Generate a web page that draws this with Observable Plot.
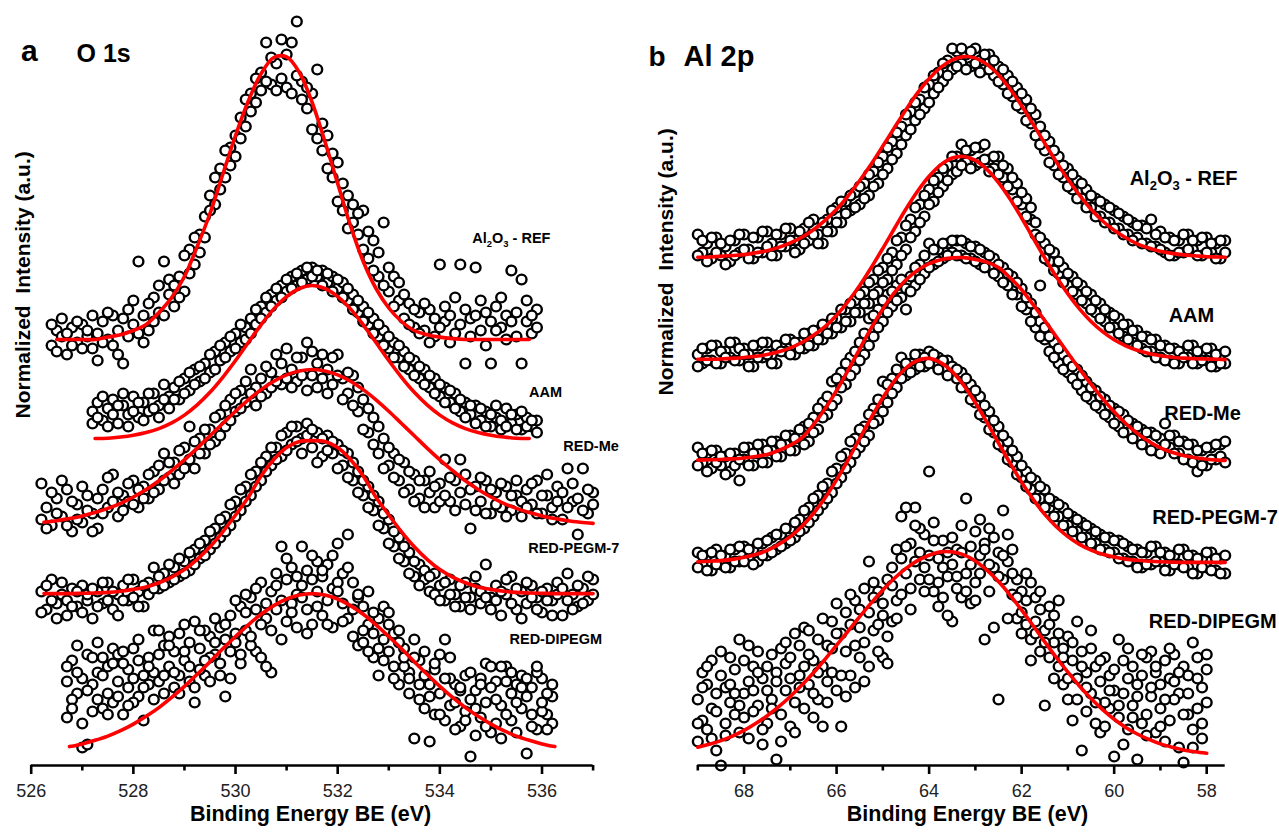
<!DOCTYPE html>
<html>
<head>
<meta charset="utf-8">
<script src="https://cdn.jsdelivr.net/npm/d3@7"></script>
<script src="https://cdn.jsdelivr.net/npm/@observablehq/plot@0.6"></script>
<style>
html, body { margin: 0; padding: 0; background: #fff; overflow: hidden; }
#wrap { display: flex; width: 1279px; height: 832px; }
#wrap svg { flex: none; }
svg text { white-space: pre; }
</style>
</head>
<body>
<div id="wrap"></div>
<script>
// ---------------- Panel a: O 1s ----------------
const o1sEnergy = [
526.2,526.3,526.4,526.5,526.6,526.7,526.8,526.9,527.0,527.1,
527.2,527.3,527.4,527.5,527.6,527.7,527.8,527.9,528.0,528.1,
528.2,528.3,528.4,528.5,528.6,528.7,528.8,528.9,529.0,529.1,
529.2,529.3,529.4,529.5,529.6,529.7,529.8,529.9,530.0,530.1,
530.2,530.3,530.4,530.5,530.6,530.7,530.8,530.9,531.0,531.1,
531.2,531.3,531.4,531.5,531.6,531.7,531.8,531.9,532.0,532.1,
532.2,532.3,532.4,532.5,532.6,532.7,532.8,532.9,533.0,533.1,
533.2,533.3,533.4,533.5,533.6,533.7,533.8,533.9,534.0,534.1,
534.2,534.3,534.4,534.5,534.6,534.7,534.8,534.9,535.0,535.1,
535.2,535.3,535.4,535.5,535.6,535.7,535.8,535.9,536.0,536.1,
536.2,536.3,536.4,536.5,536.6,536.7,536.8,536.9,537.0];

const o1sRefScan1 = [null,null,
140,145,143,137,146,141,147,143,139,135,
148,142,150,145,134,152,147,168,150,145,
156,151,168,157,153,163,158,172,167,177,
183,190,187,199,196,206,210,216,213,224,
221,231,241,227,234,242,226,241,248,228,
219,224,232,205,210,196,201,185,190,181,
177,185,169,175,163,181,158,163,155,149,
154,146,151,145,152,143,167,148,141,156,
167,134,149,166,145,151,134,153,146,150,
165,143,162,148,144,152,
null,null,null,null,null,null,null,null,null,null,null];
const o1sRefScan2 = [null,null,
147,138,149,144,140,148,139,145,150,144,
141,151,140,137,149,143,155,144,141,154,
148,160,150,162,160,156,170,164,176,171,
176,185,196,192,205,200,203,209,222,218,
229,225,228,236,225,229,237,224,230,222,
226,212,209,214,199,204,188,194,179,187,
184,172,178,165,171,160,166,153,161,157,
147,152,144,154,141,149,146,153,150,144,
147,152,143,150,155,140,148,145,156,142,
148,151,134,155,150,146,
null,null,null,null,null,null,null,null,null,null,null];

const o1sAamScan1 = [null,null,null,null,null,null,null,null,null,null,
118,121,115,119,122,114,120,117,123,116,
121,118,124,120,127,123,126,122,129,125,
132,128,134,131,138,135,141,138,144,141,
146,149,147,153,151,157,155,160,158,163,
160,165,162,166,163,165,161,163,159,161,
155,157,151,153,147,149,143,145,139,141,
136,138,132,135,129,132,126,129,123,126,
121,124,118,121,117,120,115,118,113,116,
112,119,114,117,112,116,113,115,
null,null,null,null,null,null,null,null,null,null,null];
const o1sAamScan2 = [null,null,null,null,null,null,null,null,null,null,
114,116,123,113,117,120,124,113,118,121,
115,124,119,116,122,119,122,128,124,131,
127,133,129,137,132,140,136,143,139,147,
142,144,152,149,156,153,159,156,162,159,
164,161,166,163,165,160,164,158,162,156,
159,152,155,148,151,144,147,140,143,136,
140,133,136,130,133,127,130,124,127,121,
125,119,122,116,120,114,119,113,117,120,
115,113,117,112,118,113,115,111,
null,null,null,null,null,null,null,null,null,null,null];

const o1sMeScan1 = [
94,86,80,89,83,92,78,87,81,90,
84,79,92,86,97,83,90,88,95,86,
93,89,98,92,104,96,101,97,106,113,
99,109,104,112,108,117,113,122,118,125,
121,132,126,129,124,131,137,127,139,132,
128,136,141,130,126,137,132,127,137,129,
124,130,118,122,111,116,104,109,100,104,
95,101,92,97,89,95,91,86,94,102,
88,95,102,87,79,93,88,95,84,91,
86,93,85,90,83,92,87,95,84,90,
86,93,82,99,88,77,99,84,91];
const o1sMeScan2 = [
82,79,91,84,95,80,88,82,93,85,
78,89,84,96,88,91,85,94,87,92,
89,97,91,100,95,101,94,105,99,102,
108,104,112,107,116,110,120,115,124,119,
128,124,120,123,133,126,128,134,129,126,
136,130,125,138,134,129,124,136,130,122,
131,120,126,112,119,107,113,99,106,96,
102,91,98,88,95,86,98,93,88,90,
96,85,91,97,92,85,96,84,92,87,
94,83,90,95,88,86,94,84,90,97,
82,88,91,86,94,89,85,92,87];

const o1sPegmScan1 = [
58,52,62,54,57,50,59,53,60,55,
49,58,54,61,52,57,60,55,62,58,
53,61,66,59,64,61,66,63,68,65,
72,69,75,72,79,76,83,80,88,85,
93,90,98,95,103,100,106,103,111,107,
113,109,114,106,111,103,110,104,107,100,
104,95,98,90,93,85,88,79,82,73,
76,68,71,63,67,62,58,64,60,55,
62,57,53,61,56,59,54,67,56,60,
50,57,63,52,58,54,60,56,51,59,
55,61,50,64,57,53,59,55,62];
const o1sPegmScan2 = [
51,60,55,49,61,55,53,58,51,57,
59,53,61,55,58,50,55,62,56,53,
60,57,59,63,60,67,62,69,64,71,
67,74,70,78,74,82,78,87,83,92,
88,97,93,101,98,106,102,110,105,113,
108,104,110,112,101,109,105,108,99,105,
96,101,91,95,86,90,80,84,74,78,
69,73,64,68,60,65,63,57,55,61,
57,53,60,56,52,63,58,56,52,55,
58,62,54,59,49,61,56,52,58,55,
50,57,59,55,52,60,54,63,57];

const o1sDipegmScan1 = [null,null,null,null,null,
16,35,24,6,37,27,41,19,33,39,
28,17,32,39,23,15,36,45,28,40,
33,26,44,35,28,48,39,30,43,37,
46,23,50,41,53,45,56,38,61,49,
31,64,55,48,66,57,73,52,62,58,
50,67,59,74,54,77,61,40,53,47,
36,49,53,38,44,27,39,31,9,35,
19,8,32,24,42,20,27,13,30,3,
25,16,34,11,28,20,33,15,27,19,
4,26,12,29,17,23,
null,null,null,null,null,null,null,null];
const o1sDipegmScan2 = [null,null,null,null,null,
33,22,40,29,7,18,31,36,24,21,
37,34,26,21,35,30,27,31,45,24,
43,38,30,47,41,21,32,45,36,49,
30,42,38,55,34,57,40,52,47,33,
58,52,73,62,54,46,60,65,47,68,
63,55,46,61,64,49,43,56,45,38,
51,30,42,47,29,41,33,24,36,22,
30,27,17,37,15,29,12,25,18,22,
10,29,21,26,14,33,17,24,11,30,
23,13,31,18,24,14,
null,null,null,null,null,null,null,null];
const o1sDipegmScan3 = [null,null,null,null,null,
28,19,31,14,25,36,22,30,17,34,
23,38,20,29,42,26,33,22,37,30,
40,31,24,38,33,26,45,35,28,41,
34,47,29,44,37,51,43,59,36,54,
45,60,42,69,51,63,56,44,70,53,
65,47,70,58,48,66,52,57,41,58,
44,39,35,51,33,45,36,29,42,27,
38,23,34,17,29,36,21,26,15,31,
19,27,13,33,22,9,28,31,21,26,
29,17,33,21,12,27,
null,null,null,null,null,null,null,null];

const o1sFitEnergy = [
526.25,526.5,526.75,527,527.25,527.5,527.75,528,528.25,528.5,
528.75,529,529.25,529.5,529.75,530,530.25,530.5,530.75,531,
531.25,531.5,531.75,532,532.25,532.5,532.75,533,533.25,533.5,
533.75,534,534.25,534.5,534.75,535,535.25,535.5,535.75,536,
536.25,536.5,536.75,537];
const o1sRefFit = [null,
142,142,142,142,142.8,143.6,145,147,151,156,
163,173,184,197,210,221.5,230.6,236,236.2,231,
221,208,194,180,168,159,152.5,148,145,143.6,
142.8,142.3,142,142,142,142,142,142,
null,null,null,null,null];
const o1sAamFit = [null,null,null,null,
109,109.1,109.5,110.1,111,112.3,114.2,116.8,120.2,124.4,
129.4,135,141,146.9,152.2,156.3,159,160,159,156.3,
152.2,146.9,141,135,129.4,124.4,120.2,116.8,114.2,112.3,
111,110.1,109.5,109.1,109,
null,null,null,null,null];
const o1sMeFit = [
81.1,81.6,82.3,83.2,84.3,85.7,87.4,89.5,92,94.9,
98.3,101.9,105.8,109.9,114,118.1,121.9,125.3,128.1,130.2,
131.5,132,131.5,130.2,128.1,125.3,121.9,118.1,114,109.9,
105.8,101.9,98.3,94.9,92,89.5,87.4,85.7,84.3,83.2,
82.3,81.6,81.1,80.7];
const o1sPegmFit = [
57.3,57.3,57.3,57.4,57.5,57.7,58.1,58.7,59.5,60.9,
62.8,65.3,68.7,72.9,77.9,83.5,89.4,96.5,102,106,
108,108.3,108,106,102,96.5,89.4,83.5,77.9,72.9,
68.7,65.3,62.8,60.9,59.5,58.7,58.1,57.7,57.5,57.4,
57.3,57.3,57.3,57.3];
const o1sDipegmFit = [null,null,
6.3,7.2,8.4,9.8,11.6,13.8,16.4,19.3,22.7,26.4,
30.4,34.6,38.9,43,46.9,50.4,53.3,55.5,56.8,57.3,
56.8,55.5,53.3,50.4,46.9,43,38.9,34.6,30.4,26.4,
22.7,19.3,16.4,13.8,11.6,9.8,8.4,7.2,6.3,
null,null,null];

const o1sMajorTicks = [526, 528, 530, 532, 534, 536];
const o1sMinorTicks = [527, 529, 531, 533, 535, 537];
const o1sNames = ["Al2O3 - REF", "AAM", "RED-Me", "RED-PEGM-7", "RED-DIPEGM"];
const o1sLabelEnergy = [535.40, 536.07, 536.96, 536.62, 536.27];
const o1sLabelIntensity = [175.7, 124.3, 106.3, 72.3, 42];

// ---------------- Panel b: Al 2p ----------------
const al2pEnergy = [
69.0,68.9,68.8,68.7,68.6,68.5,68.4,68.3,68.2,68.1,
68.0,67.9,67.8,67.7,67.6,67.5,67.4,67.3,67.2,67.1,
67.0,66.9,66.8,66.7,66.6,66.5,66.4,66.3,66.2,66.1,
66.0,65.9,65.8,65.7,65.6,65.5,65.4,65.3,65.2,65.1,
65.0,64.9,64.8,64.7,64.6,64.5,64.4,64.3,64.2,64.1,
64.0,63.9,63.8,63.7,63.6,63.5,63.4,63.3,63.2,63.1,
63.0,62.9,62.8,62.7,62.6,62.5,62.4,62.3,62.2,62.1,
62.0,61.9,61.8,61.7,61.6,61.5,61.4,61.3,61.2,61.1,
61.0,60.9,60.8,60.7,60.6,60.5,60.4,60.3,60.2,60.1,
60.0,59.9,59.8,59.7,59.6,59.5,59.4,59.3,59.2,59.1,
59.0,58.9,58.8,58.7,58.6,58.5,58.4,58.3,58.2,58.1,
58.0,57.9,57.8,57.7,57.6];

const al2pRefScan1 = [
177,171,174,169,176,170,173,168,175,171,
177,172,169,176,171,178,174,170,177,173,
179,175,172,179,175,182,177,174,182,178,
186,181,188,185,191,187,194,190,198,194,
203,199,208,204,213,210,218,215,222,219,
227,224,231,228,235,232,238,234,237,233,
239,235,232,237,230,233,227,230,223,226,
219,222,214,217,213,205,208,200,203,196,
199,192,195,189,192,186,189,183,187,181,
185,179,183,177,181,176,180,174,182,173,
178,171,176,170,175,171,177,172,175,170,
176,171,174,169,175];
const al2pRefScan2 = [
170,175,168,176,171,174,167,175,170,177,
172,169,176,171,178,173,170,177,173,179,
175,171,178,174,181,177,174,181,178,185,
181,188,184,190,186,193,189,197,193,201,
197,206,202,211,207,217,212,221,217,226,
221,230,226,234,230,239,233,239,232,238,
234,231,237,232,235,228,232,224,228,220,
224,215,219,210,207,210,201,205,197,200,
193,197,189,194,186,190,183,188,181,186,
179,184,177,182,175,180,174,179,173,177,
172,176,170,175,171,177,172,175,170,176,
171,174,169,175,171];

const al2pAamScan1 = [
137,134,139,135,140,134,138,136,141,135,
139,137,133,140,136,141,137,134,140,138,
142,137,141,139,144,140,145,142,147,144,
149,146,152,148,155,151,158,154,162,158,
166,162,171,167,176,172,182,178,187,183,
192,188,196,193,200,197,203,207,201,205,
200,206,207,202,199,203,196,199,192,194,
187,189,182,177,160,174,168,171,164,166,
160,163,157,160,154,157,151,154,148,151,
146,149,143,147,141,145,139,143,138,142,
136,140,135,139,134,138,136,140,134,138,
135,139,133,137,134];
const al2pAamScan2 = [
133,139,135,140,134,138,136,141,135,139,
137,133,140,136,141,137,134,140,138,142,
137,141,139,144,140,145,142,147,144,149,
146,152,148,154,151,157,154,161,157,165,
161,169,165,175,170,180,176,186,181,190,
187,195,191,199,195,203,198,200,205,199,
206,201,202,198,203,197,200,193,196,188,
191,183,186,181,176,169,172,165,168,161,
164,158,161,155,158,152,155,149,152,146,
150,144,147,142,145,140,143,138,142,136,
140,135,139,134,138,136,140,134,138,135,
139,133,137,134,138];

const al2pMeScan1 = [
106,101,104,99,105,100,103,98,104,95,
102,106,100,104,107,101,105,108,103,107,
110,105,109,113,108,116,112,121,117,128,
122,131,127,136,132,141,137,149,143,152,
148,157,153,160,156,152,163,160,167,164,
174,167,172,169,174,171,175,170,174,169,
173,167,171,166,169,163,166,160,163,157,
159,152,154,146,148,142,138,141,134,137,
131,129,132,125,128,122,125,119,122,116,
119,113,117,111,114,109,112,107,111,105,
109,114,106,110,104,108,102,107,98,105,
100,106,102,107,108];
const al2pMeScan2 = [
100,104,98,105,101,103,97,104,100,102,
106,100,104,107,101,105,108,103,107,110,
105,109,112,107,114,111,119,116,123,120,
129,126,134,130,138,135,144,140,150,146,
155,151,158,155,162,159,158,166,162,170,
166,172,168,174,170,175,170,175,169,173,
168,172,166,170,164,167,161,164,157,161,
153,156,148,151,143,146,143,136,139,132,
135,133,127,130,123,126,120,123,117,120,
114,118,111,115,109,113,107,111,105,110,
104,107,110,104,108,102,107,101,105,100,
106,102,107,103,101];

const al2pPegmScan1 = [
71,67,70,65,72,67,70,66,72,68,
73,69,72,68,74,70,76,72,77,74,
79,76,82,79,86,83,90,87,94,91,
99,96,104,101,109,106,113,110,119,115,
128,121,129,126,136,130,134,132,137,133,
138,134,136,132,135,131,129,131,126,127,
121,123,116,118,111,113,106,108,101,103,
96,98,92,95,89,92,86,88,83,86,
80,83,78,81,76,79,74,77,72,76,
71,75,69,73,68,72,66,71,67,73,
68,71,65,70,67,72,66,70,64,69,
66,71,65,69,64];
const al2pPegmScan2 = [
66,70,65,71,67,70,66,72,68,73,
68,72,67,74,70,75,71,77,73,79,
75,81,78,85,81,89,85,93,89,98,
94,103,99,108,104,112,108,117,114,122,
118,127,124,132,129,134,131,137,133,136,
134,137,132,135,130,133,132,126,129,122,
125,117,120,112,115,107,110,102,105,97,
100,93,96,89,93,86,89,83,87,80,
84,78,82,76,80,74,78,72,76,71,
75,69,74,68,72,66,71,67,73,68,
71,65,70,67,72,66,70,64,69,66,
71,65,69,64,70];

const al2pDipegmScan1 = [
22,31,12,35,5,0,26,36,17,42,
24,9,33,20,29,14,37,2,39,25,
13,44,30,46,27,35,22,13,40,31,
54,13,38,47,26,52,41,68,45,58,
36,62,48,55,83,64,74,86,62,77,
98,58,69,75,63,48,72,56,89,67,
78,70,42,79,66,22,85,68,57,62,
44,55,61,48,38,20,53,41,33,27,
43,15,48,5,31,39,14,28,36,19,
3,42,24,12,33,2,30,17,38,11,
27,35,15,37,24,1,30,41,19,26,
21,null,null,null,null];
const al2pDipegmScan2 = [
8,15,27,19,24,30,14,21,32,11,
35,28,18,38,7,25,22,31,17,34,
29,21,40,19,37,16,42,33,28,48,
25,44,51,30,55,36,59,33,56,38,
50,34,60,72,57,86,59,68,79,66,
70,75,61,56,71,67,59,80,64,54,
61,82,74,67,76,71,62,77,64,49,
58,47,42,56,52,45,36,50,44,39,
22,35,29,38,18,24,33,11,21,30,
25,16,35,29,20,27,14,36,23,31,
19,8,29,22,6,33,17,12,36,9,
32,null,null,null,null];
const al2pDipegmScan3 = [
14,26,33,9,18,38,10,27,24,20,
16,40,25,31,12,33,19,28,8,41,
36,11,26,33,45,24,31,49,21,39,
44,30,23,57,40,46,28,51,61,47,
54,43,66,49,69,73,52,80,71,58,
62,81,53,66,50,76,63,71,58,73,
55,64,72,58,46,63,70,49,72,56,
51,64,35,44,58,41,47,29,55,36,
29,41,22,33,26,45,21,35,13,25,
32,20,7,39,16,23,37,10,26,33,
13,22,39,28,31,17,24,6,29,14,
37,null,null,null,null];

const al2pFitEnergy = [
69,68.75,68.5,68.25,68,67.75,67.5,67.25,67,66.75,
66.5,66.25,66,65.75,65.5,65.25,65,64.75,64.5,64.25,
64,63.75,63.5,63.25,63,62.75,62.5,62.25,62,61.75,
61.5,61.25,61,60.75,60.5,60.25,60,59.75,59.5,59.25,
59,58.75,58.5,58.25,58,57.75,57.6];
const al2pRefFit = [
169.4,169.5,169.7,170,170.3,170.9,171.6,172.7,174.2,176.1,
178.6,181.7,185.4,189.9,195,200.5,206.5,212.6,218.6,224.2,
228.9,232.7,235.2,236.3,235.8,233.7,230.2,225.5,219.9,213.7,
207.4,201.2,195.4,190.1,185.4,181.5,178.4,175.9,173.9,172.5,
171.4,170.7,170.2,169.9,169.6,169.5,169.4];
const al2pAamFit = [
135.4,135.4,135.5,135.7,136,136.4,137,137.9,139.2,141,
143.4,146.3,150.1,154.7,160,166,172.4,179,185.5,191.4,
196.4,200.2,202.5,203,201.7,198.7,194.3,188.8,182.5,175.8,
169.2,162.9,157.2,152.2,148,144.6,141.9,139.9,138.4,137.3,
136.6,136.1,135.8,135.6,135.5,135.4,135.3];
const al2pMeFit = [
101.8,101.9,102,102.2,102.5,103,103.7,105,106.8,109.2,
113.6,118.9,125,131.8,138.9,145.9,152.2,157.6,161.9,165.1,
167.3,168.6,169.2,169.3,168.7,167.8,166,162.6,158.6,153.6,
148.3,142.9,137.5,132.2,127.1,122.3,117.9,114,110.7,108,
105.9,104.4,103.3,102.6,102.1,101.8,101.7];
const al2pPegmFit = [
67.9,68.1,68.3,68.7,69.4,70.3,71.7,73.7,76.3,79.7,
84,89.2,95.2,101.9,109,116,122.6,128.2,132.5,135,
135.7,134.3,131.3,126.7,120.9,114.4,107.5,100.8,94.4,88.7,
83.7,79.6,76.3,73.7,71.8,70.4,69.5,68.8,68.4,68.1,
67.9,67.8,67.7,67.7,67.7,67.7,67.7];
const al2pDipegmFit = [
6.1,7.1,8.3,9.8,11.7,14,16.6,19.6,23,26.8,
30.9,35.4,40.1,44.8,49.6,54.2,58.5,62.4,65.7,68.3,
70.1,71.2,71.2,70.2,68.2,65.1,61.3,56.8,51.8,46.6,
41.2,36,31.1,26.5,22.3,18.6,15.4,12.7,10.5,8.7,
7.2,6.1,5.2,4.6,4.1,null,null];

const al2pMajorTicks = [68, 66, 64, 62, 60, 58];
const al2pMinorTicks = [69, 67, 65, 63, 61, 59];
const al2pNames = ["Al2O3 - REF", "AAM", "RED-Me", "RED-PEGM-7", "RED-DIPEGM"];
const al2pLabelEnergy = [58.50, 58.33, 58.09, 57.82, 57.87];
const al2pLabelIntensity = [195.7, 150, 117.3, 82.7, 48];

const xTitle = "Binding Energy BE (eV)";
const yTitle = "Normalized  Intensity (a.u.)";

// ---------------- drawing ----------------
const plotFont = "'Liberation Sans', Arial, Helvetica, sans-serif";

function toPoints(grid, values, key) {
  const out = [];
  values.forEach((v, i) => { if (v != null && grid[i] != null) out.push({E: grid[i], I: v, s: key}); });
  return out;
}

function addSubscripts(svg) {
  const NS = "http://www.w3.org/2000/svg";
  for (const t of svg.querySelectorAll("text")) {
    if (t.textContent !== "Al2O3 - REF") continue;
    while (t.firstChild) t.removeChild(t.firstChild);
    const parts = [["Al", 0], ["2", 1], ["O", -1], ["3", 1], [" - REF", -1]];
    for (const [s, mode] of parts) {
      const ts = document.createElementNS(NS, "tspan");
      ts.textContent = s;
      if (mode === 1) { ts.setAttribute("font-size", "65%"); ts.setAttribute("dy", "0.38em"); }
      if (mode === -1) { ts.setAttribute("dy", "-0.247em"); }
      t.appendChild(ts);
    }
  }
}

function panel(cfg) {
  const dots = cfg.scans.flatMap((a, k) => toPoints(cfg.grid, a, k));
  const fits = cfg.fits.flatMap((a, k) => toPoints(cfg.fitGrid, a, k));
  const labels = cfg.names.map((n, k) => ({label: n, E: cfg.labelE[k], I: cfg.labelI[k]}));
  const svg = Plot.plot({
    width: cfg.width,
    height: 832,
    marginLeft: cfg.ml,
    marginRight: cfg.mr,
    marginTop: 0,
    marginBottom: 67,
    x: {domain: cfg.domain},
    y: {domain: [0, 255], axis: null},
    style: {fontFamily: plotFont, background: "white", color: "black", overflow: "visible"},
    marks: [
      Plot.dot(dots, {x: "E", y: "I", r: 4.9, stroke: "black", fill: "white", strokeWidth: 2.4}),
      Plot.line(fits, {x: "E", y: "I", z: "s", stroke: "#ff0000", strokeWidth: 3.6, curve: "catmull-rom"}),
      Plot.ruleY([0], {stroke: "black", strokeWidth: 2.6}),
      Plot.axisX(cfg.major, {tickSize: 9, tickPadding: 10, fontSize: 18, strokeWidth: 2.6, stroke: "black", fill: "#222", label: null}),
      Plot.axisX(cfg.minor, {tickSize: 5.5, strokeWidth: 2.6, stroke: "black", fill: "none", label: null}),
      Plot.text(labels, {x: "E", y: "I", text: "label", fontSize: cfg.labelSize, fontWeight: "bold", fill: "black"}),
      Plot.text([xTitle], {frameAnchor: "bottom", dy: 55, dx: cfg.xTitleDx, fontSize: 21.5, fontWeight: "bold", fill: "black"}),
      Plot.text([yTitle], {frameAnchor: "left", rotate: -90, dx: cfg.yDx, dy: cfg.yDy, fontSize: 21, fontWeight: "bold", fill: "black"}),
      Plot.text([cfg.letter], {frameAnchor: "top-left", textAnchor: "start", dx: cfg.letterDx, dy: cfg.letterDy, fontSize: cfg.letterSize, fontWeight: "bold", fill: "black"}),
      Plot.text([cfg.core], {frameAnchor: "top-left", textAnchor: "start", dx: cfg.coreDx, dy: cfg.coreDy, fontSize: cfg.coreSize, fontWeight: "bold", fill: "black"})
    ]
  });
  addSubscripts(svg);
  return svg;
}

const wrap = document.getElementById("wrap");
wrap.appendChild(panel({
  width: 640, ml: 30.7, mr: 47.4, domain: [526, 537],
  grid: o1sEnergy, fitGrid: o1sFitEnergy,
  scans: [o1sRefScan1, o1sRefScan2, o1sAamScan1, o1sAamScan2, o1sMeScan1, o1sMeScan2, o1sPegmScan1, o1sPegmScan2, o1sDipegmScan1, o1sDipegmScan2, o1sDipegmScan3],
  fits: [o1sRefFit, o1sAamFit, o1sMeFit, o1sPegmFit, o1sDipegmFit],
  major: o1sMajorTicks, minor: o1sMinorTicks,
  names: o1sNames, labelE: o1sLabelEnergy, labelI: o1sLabelIntensity, labelSize: 14.5,
  xTitleDx: -1.6, yDx: -7.7, yDy: 35.5,
  letter: "a", letterDx: -10.2, letterDy: 39.4, letterSize: 30,
  core: "O 1s", coreDx: 45.3, coreDy: 44, coreSize: 25
}));
wrap.appendChild(panel({
  width: 639, ml: 57.3, mr: 54.3, domain: [69, 57.6],
  grid: al2pEnergy, fitGrid: al2pFitEnergy,
  scans: [al2pRefScan1, al2pRefScan2, al2pAamScan1, al2pAamScan2, al2pMeScan1, al2pMeScan2, al2pPegmScan1, al2pPegmScan2, al2pDipegmScan1, al2pDipegmScan2, al2pDipegmScan3],
  fits: [al2pRefFit, al2pAamFit, al2pMeFit, al2pPegmFit, al2pDipegmFit],
  major: al2pMajorTicks, minor: al2pMinorTicks,
  names: al2pNames, labelE: al2pLabelEnergy, labelI: al2pLabelIntensity, labelSize: 20,
  xTitleDx: 6, yDx: -31.3, yDy: 12.5,
  letter: "b", letterDx: -49.3, letterDy: 46, letterSize: 28,
  core: "Al 2p", coreDx: -14.3, coreDy: 44.7, coreSize: 29
}));
</script>
</body>
</html>
